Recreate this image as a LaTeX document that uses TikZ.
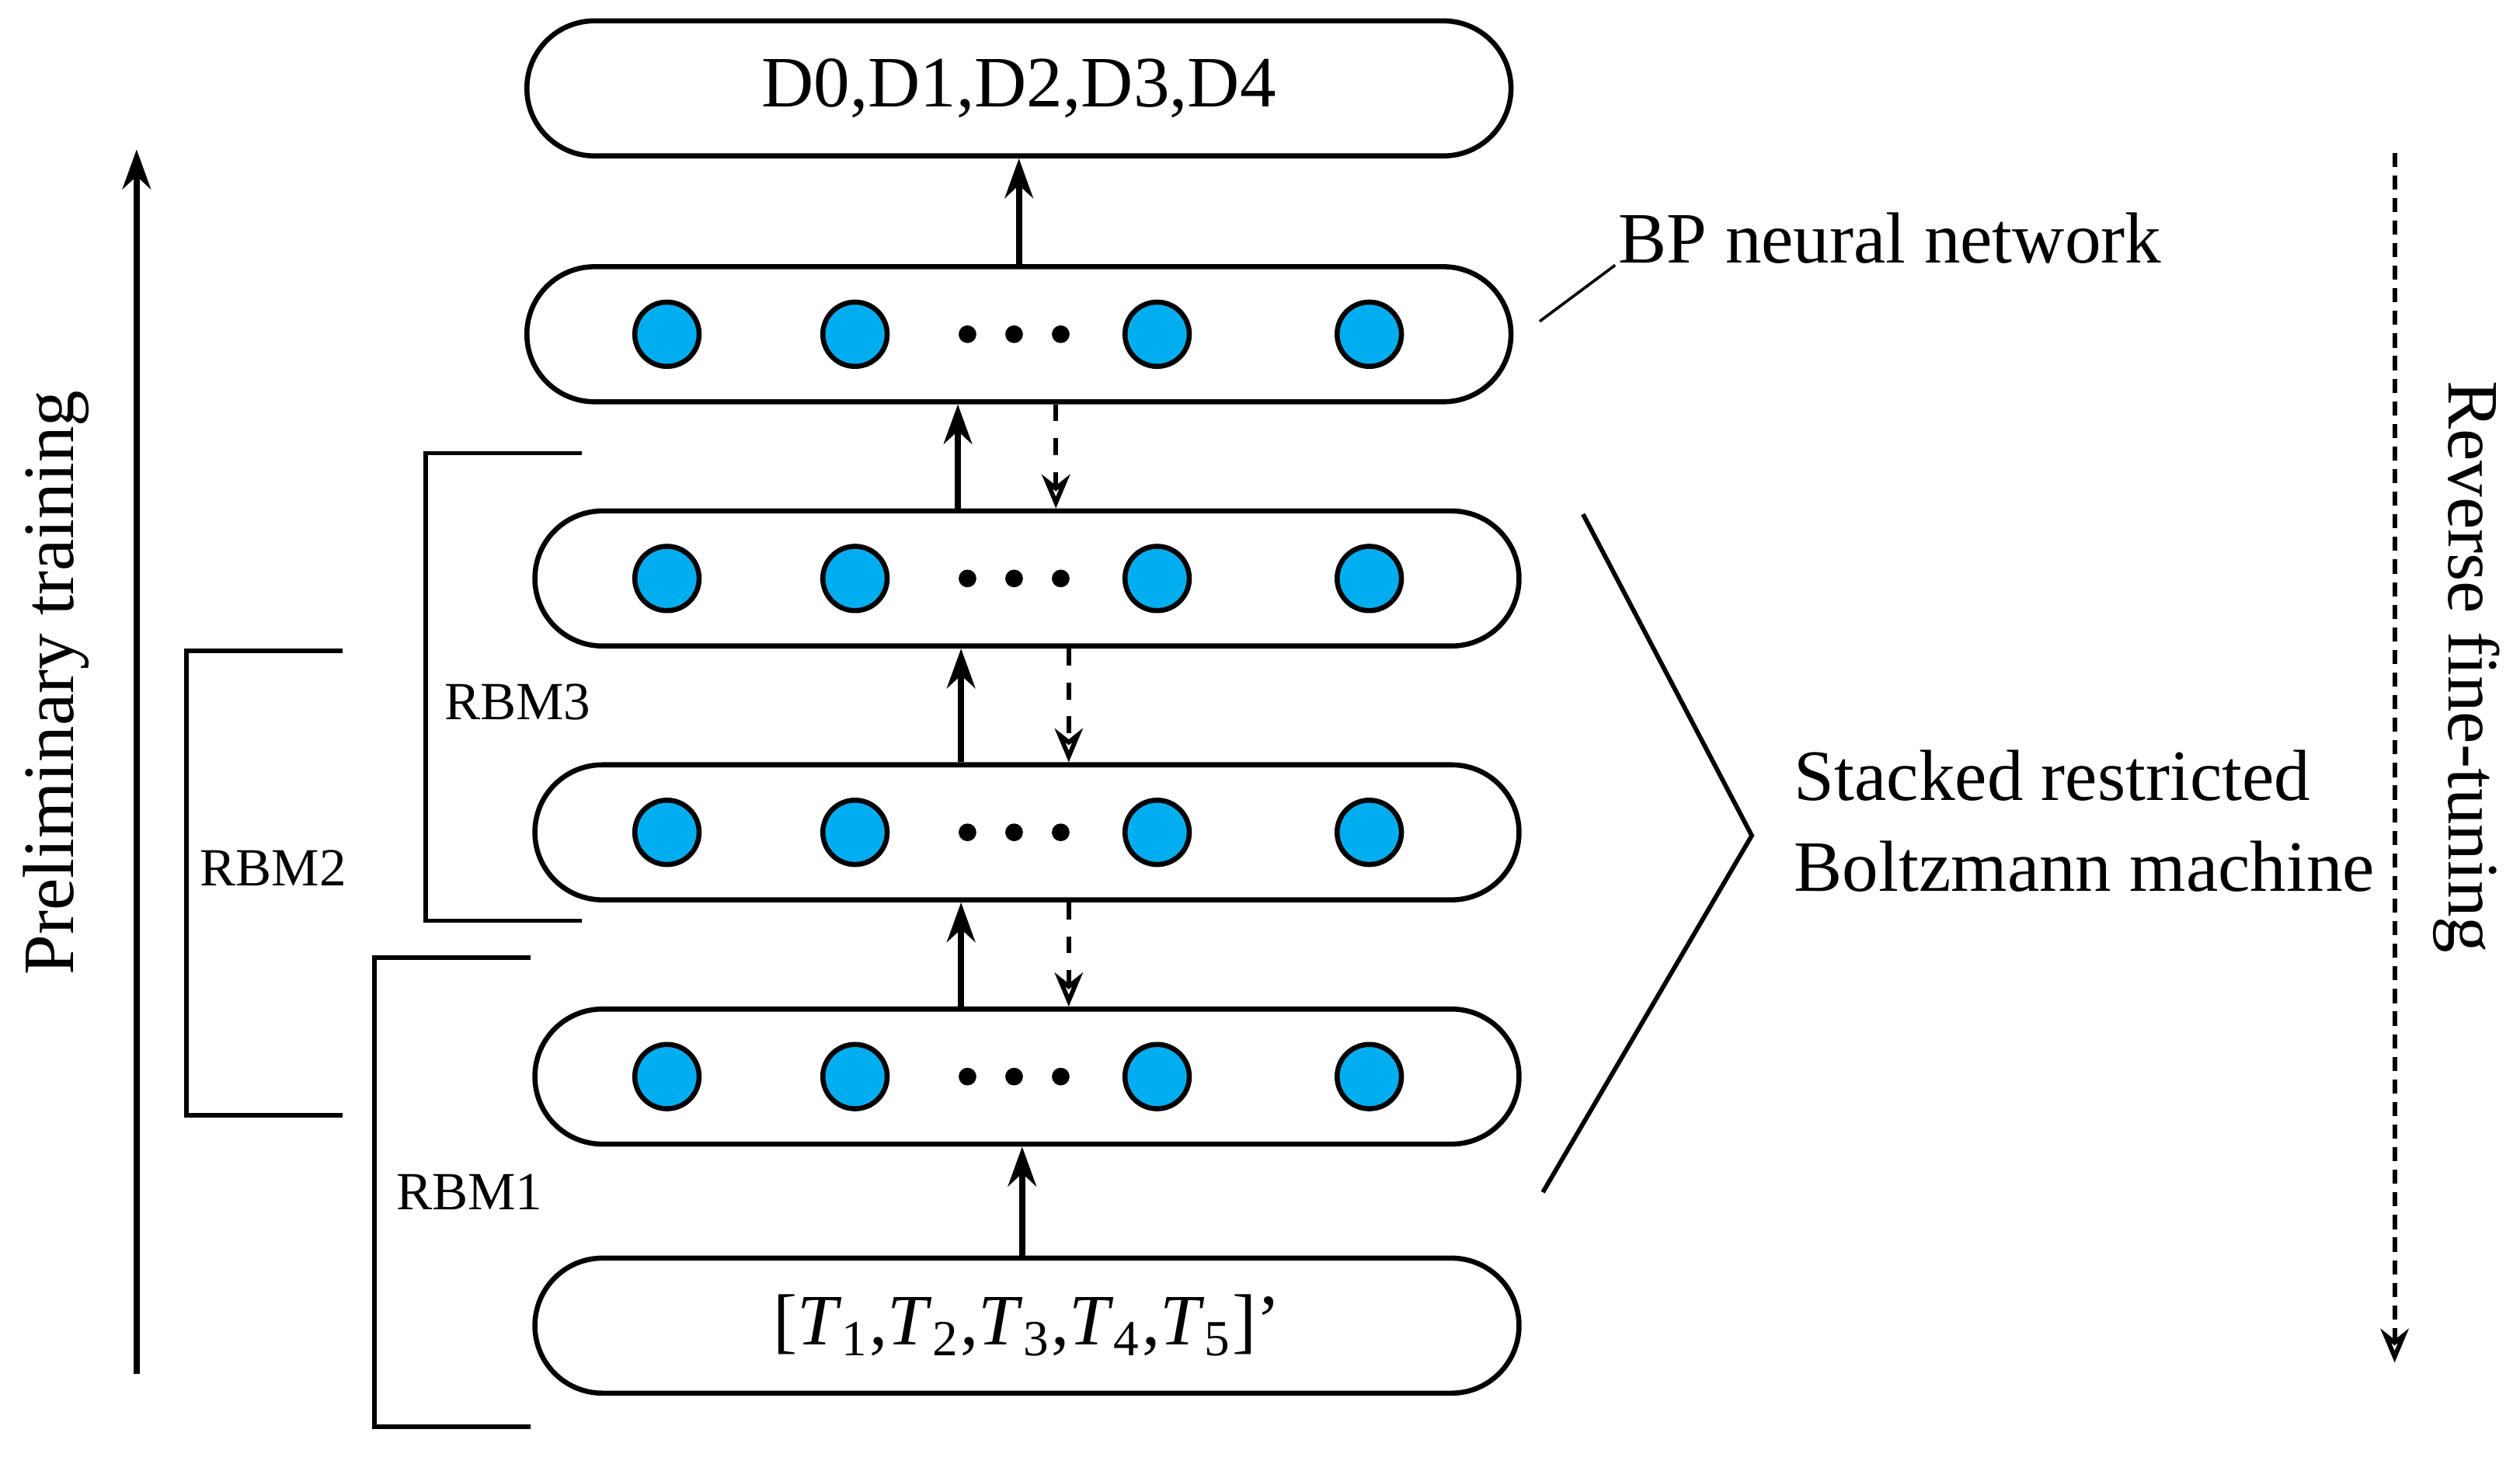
\documentclass[tikz,border=0pt]{standalone}
\usepackage{fontspec}
\setmainfont{Liberation Serif}
\usetikzlibrary{arrows.meta}
\begin{document}
\begin{tikzpicture}[x=0.01cm,y=-0.01cm]
	\tikzset{layer/.style={draw,line width=0.9pt,rounded corners=0.42cm,minimum width=6.12cm,minimum height=0.84cm,inner sep=0pt},
		unit/.style={circle,draw,line width=0.9pt,fill={rgb,255:red,0;green,174;blue,239},minimum size=0.4cm,inner sep=0pt},
		up/.style={-{Stealth[length=7pt,width=5pt,open]},line width=1.1pt},
		back/.style={-{Stealth[length=6pt,width=5pt,open]},dashed,line width=0.8pt},
		brk/.style={line width=0.8pt},
		big/.style={font=\fontsize{12.8}{16}\selectfont},
		small/.style={font=\fontsize{9.5}{11}\selectfont}}
	\useasboundingbox (0,0) rectangle (1568,911);
	% output and input layers
	\node[layer,big] (out) at (634,55) {D0,D1,D2,D3,D4};
	\node[layer,big] (in) at (639,825) {[\textit{T}\textsubscript{1},\textit{T}\textsubscript{2},\textit{T}\textsubscript{3},\textit{T}\textsubscript{4},\textit{T}\textsubscript{5}]'};
	% hidden layers
	\node[layer] (bp) at (634,208) {};
	\node[layer] (h3) at (639,360) {};
	\node[layer] (h2) at (639,518) {};
	\node[layer] (h1) at (639,670) {};
	\foreach \n/\y in {bp/208,h3/360,h2/518,h1/670}{
		\foreach \i/\x in {1/415,2/532,3/720,4/852}
			\node[unit] (\n\i) at (\x,\y) {};
		\foreach \x in {602,631,660}
			\fill (\x,\y) circle (5.5);
	}
	% arrows
	\draw[up] (bp.north -| out.south) -- (out.south);
	\draw[up] (h3.north -| 596,0) -- (bp.south -| 596,0);
	\draw[back] (bp.south -| 657,0) -- (h3.north -| 657,0);
	\draw[up] (h2.north -| 598,0) -- (h3.south -| 598,0);
	\draw[back] (h3.south -| 665,0) -- (h2.north -| 665,0);
	\draw[up] (h1.north -| 598,0) -- (h2.south -| 598,0);
	\draw[back] (h2.south -| 665,0) -- (h1.north -| 665,0);
	\draw[up] (in.north -| 636,0) -- (h1.south -| 636,0);
	% brackets
	\draw[brk] (362,282) -- (265,282) -- (265,573) -- (362,573);
	\node[small] (rbm3) at (322,437) {RBM3};
	\draw[brk] (213,405) -- (116,405) -- (116,694) -- (213,694);
	\node[small] (rbm2) at (170,540) {RBM2};
	\draw[brk] (330,596) -- (233,596) -- (233,888) -- (330,888);
	\node[small] (rbm1) at (292,742) {RBM1};
	% side arrows
	\coordinate (pa) at (85,855);
	\coordinate (pb) at (85,93);
	\draw[up] (pa) -- (pb);
	\node[big,rotate=90] (pre) at (35,425) {Preliminary training};
	\coordinate (ra) at (1490,95);
	\coordinate (rb) at (1490,848);
	\draw[back,dash pattern=on 2.5pt off 1.5pt] (ra) -- (rb);
	\node[big,rotate=-90] (rev) at (1535,415) {Reverse fine-tuning};
	% annotations
	\node[big] (bpl) at (1176,148) {BP neural network};
	\draw[line width=0.5pt] (958,200) -- (1005,165);
	\draw[line width=0.8pt] (985,320) -- (1090,520) -- (960,742);
	\node[big,align=left,anchor=west] (srbm) at (1104,511) {Stacked restricted\\Boltzmann machine};
\end{tikzpicture}
\end{document}
